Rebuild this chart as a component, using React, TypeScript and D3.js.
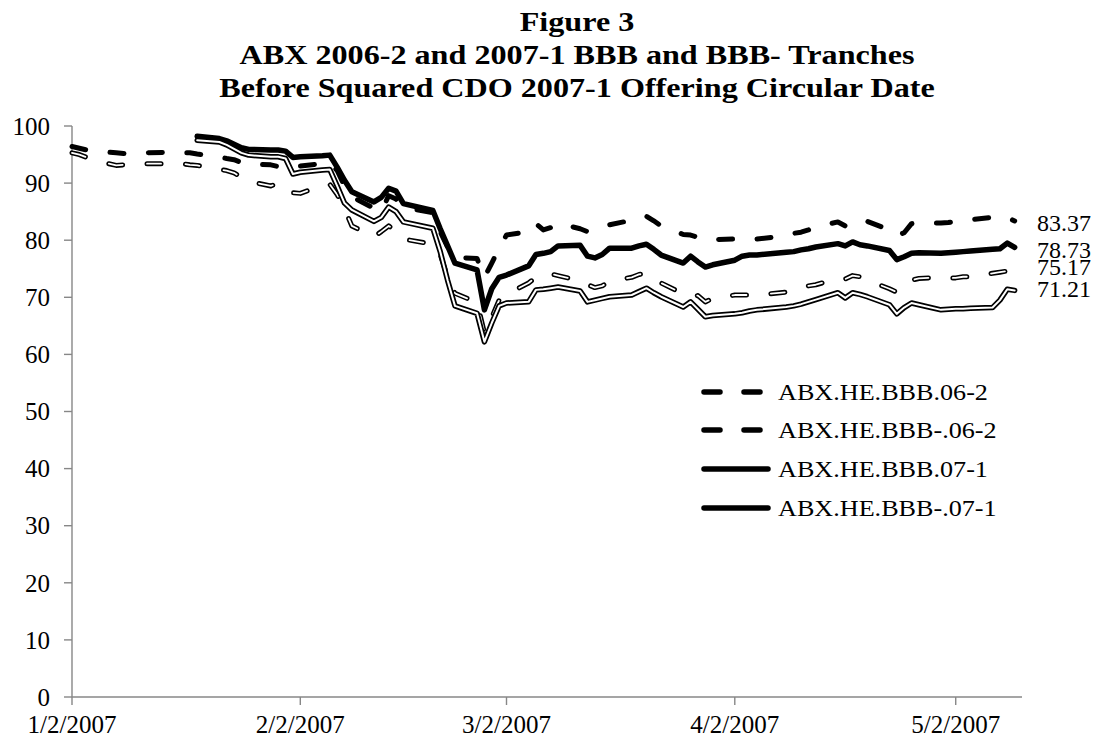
import React from "react";
import * as d3 from "d3";

const dates0662: string[] = [
  "1/2","1/3","1/4","1/5","1/8","1/9","1/10","1/11","1/12","1/16","1/17","1/18","1/19","1/22","1/23","1/24","1/25","1/26","1/29","1/30","1/31",
  "2/1","2/2","2/5","2/6","2/7","2/8","2/9","2/12","2/13","2/14","2/15","2/16","2/20","2/21","2/22","2/23","2/26","2/27","2/28",
  "3/1","3/2","3/5","3/6","3/7","3/8","3/9","3/12","3/13","3/14","3/15","3/16","3/19","3/20","3/21","3/22","3/23","3/26","3/27","3/28","3/29","3/30",
  "4/2","4/3","4/4","4/5","4/9","4/10","4/11","4/12","4/13","4/16","4/17","4/18","4/19","4/20","4/23","4/24","4/25","4/26","4/27","4/30",
  "5/1","5/2","5/3","5/4","5/7","5/8","5/9","5/10",
];
const dates0701: string[] = dates0662.slice(12);

const bbb062: number[] = [
  96.4,96.1,95.8,95.6,95.3,95.2,95.1,95.2,95.3,95.4,95.3,95.3,95.1,94.6,94.3,94.1,93.6,93.3,93.2,92.9,92.6,
  92.8,93.0,93.4,93.6,92.2,89.5,87.6,85.6,85.0,87.8,87.2,85.8,84.8,81.5,78.8,77.0,76.8,73.5,76.0,
  78.6,80.9,81.5,82.9,81.8,82.2,83.0,82.0,81.5,81.8,82.2,82.7,83.5,83.6,84.2,83.4,82.5,81.0,80.9,80.5,80.0,80.1,
  80.2,80.3,80.2,80.2,80.8,81.2,81.4,81.8,82.3,83.2,82.5,83.0,83.6,83.3,81.8,80.8,81.3,82.9,83.0,83.0,
  83.1,83.3,83.4,83.6,84.0,84.1,84.0,83.37,
];
const bbbm062: number[] = [
  95.3,95.0,94.5,94.0,93.1,93.2,93.4,93.4,93.4,93.4,93.4,93.2,93.1,92.4,92.2,91.8,91.0,90.3,89.5,90.0,88.8,
  88.3,88.2,89.6,89.8,88.0,85.5,82.5,80.6,81.5,82.5,81.6,80.2,79.3,77.5,73.5,70.7,69.1,63.8,66.5,
  69.5,70.5,72.5,73.5,74.0,74.1,73.8,72.9,72.2,71.7,72.0,72.8,73.5,74.0,74.2,73.3,72.5,70.6,70.1,70.3,69.2,69.8,
  70.4,70.4,70.4,70.4,70.9,71.4,71.8,72.0,72.2,73.3,73.2,73.8,73.6,73.0,71.5,70.9,72.0,73.0,73.3,73.5,
  73.4,73.4,73.6,73.6,74.2,74.4,74.6,75.17,
];
const bbb071: number[] = [
  98.2,97.8,97.4,96.8,96.2,95.9,95.8,95.8,95.6,
  94.5,94.6,94.8,94.9,92.8,90.5,88.5,86.7,87.5,89.1,88.6,86.4,85.2,82.0,79.0,76.0,74.8,67.8,71.5,
  73.5,73.9,75.5,77.5,77.7,78.0,79.0,79.1,77.2,76.9,77.5,78.6,78.6,79.0,79.3,78.4,77.4,76.0,77.2,76.2,75.3,75.7,
  76.5,77.2,77.4,77.4,77.9,78.0,78.3,78.5,78.8,79.4,79.0,79.7,79.2,79.0,78.2,76.6,77.1,77.7,77.8,77.7,
  77.8,77.9,78.0,78.1,78.4,78.5,79.5,78.73,
];
const bbbm071: number[] = [
  97.5,97.2,96.7,96.0,95.3,94.9,94.6,94.6,94.3,
  91.6,91.9,92.3,92.4,89.5,86.5,85.3,83.3,84.0,85.8,85.0,83.2,82.1,78.0,73.0,68.5,67.2,62.2,65.5,
  68.5,69.0,69.2,71.3,71.4,71.6,71.8,71.1,69.2,69.5,69.8,70.1,70.4,71.0,71.6,70.8,70.1,68.3,69.2,67.9,66.6,66.8,
  67.1,67.3,67.6,67.8,68.3,68.5,68.8,69.2,69.6,70.8,69.9,70.8,70.5,70.1,68.7,67.1,68.2,69.0,68.7,67.8,
  67.9,68.0,68.0,68.1,68.2,69.5,71.4,71.21,
];

const seriesNames: string[] = ["ABX.HE.BBB.06-2", "ABX.HE.BBB-.06-2", "ABX.HE.BBB.07-1", "ABX.HE.BBB-.07-1"];
const yTicks: number[] = [0, 10, 20, 30, 40, 50, 60, 70, 80, 90, 100];
const xTickLabels: string[] = ["1/2/2007", "2/2/2007", "3/2/2007", "4/2/2007", "5/2/2007"];
const titleLines: string[] = [
  "Figure 3",
  "ABX 2006-2 and 2007-1 BBB and BBB- Tranches",
  "Before Squared CDO 2007-1 Offering Circular Date",
];

const parse = (s: string) => {
  const [m, d] = s.split("/").map(Number);
  return new Date(2007, m - 1, d);
};

export default function App() {
  const W = 1099, H = 740;
  const x = d3.scaleTime().domain([new Date(2007, 0, 2), new Date(2007, 4, 11)]).range([72, 1022]);
  const y = d3.scaleLinear().domain([0, 100]).range([697, 126]);
  const axisColor = "#878787";
  const font = "'Liberation Serif', 'Times New Roman', serif";

  const mk = (ds: string[], vs: number[]) => ds.map((d, i) => ({ d: parse(d), v: vs[i] }));
  const line = d3.line<{ d: Date; v: number }>().x((p) => x(p.d)).y((p) => y(p.v));

  const s1 = line(mk(dates0662, bbb062)) || "";
  const s2 = line(mk(dates0662, bbbm062)) || "";
  const s3 = line(mk(dates0701, bbb071)) || "";
  const s4 = line(mk(dates0701, bbbm071)) || "";

  // end-of-series labels (top to bottom), small vertical nudges as in the reference
  const ends = [bbb062, bbb071, bbbm062, bbbm071].map((a) => a[a.length - 1]);
  const endNudge = [2, 2.5, -1, -2];

  const legendY = [392, 430, 469, 508];

  return (
    <svg width={W} height={H} style={{ position: "absolute", left: 0, top: 0, background: "#fff" }} fontFamily={font}>
      <rect x={0} y={0} width={W} height={H} fill="#fff" />
      {titleLines.map((t, i) => (
        <g key={t} transform={`translate(577, ${31 + i * 33}) scale(1.17, 1)`}>
          <text x={0} y={0} textAnchor="middle" fontWeight="bold" fontSize={27.5} fill="#000">
            {t}
          </text>
        </g>
      ))}
      {/* axes */}
      <line x1={72} x2={72} y1={y(100)} y2={y(0)} stroke={axisColor} strokeWidth={1.4} />
      <line x1={72} x2={1022} y1={y(0)} y2={y(0)} stroke={axisColor} strokeWidth={1.4} />
      {yTicks.map((t) => (
        <g key={t}>
          <line x1={64} x2={72} y1={y(t)} y2={y(t)} stroke={axisColor} strokeWidth={1.4} />
          <text x={50} y={y(t)} dy="0.35em" textAnchor="end" fontSize={25} fill="#000">{t}</text>
        </g>
      ))}
      {xTickLabels.map((t) => {
        const [m, d, yy] = t.split("/").map(Number);
        const xx = x(new Date(yy, m - 1, d));
        return (
          <g key={t}>
            <line x1={xx} x2={xx} y1={y(0)} y2={y(0) + 8} stroke={axisColor} strokeWidth={1.4} />
            <text x={xx} y={733} textAnchor="middle" fontSize={25} fill="#000">{t}</text>
          </g>
        );
      })}
      {/* series */}
      <path d={s1} fill="none" stroke="#000" strokeWidth={5} strokeDasharray="14 24.5" strokeLinecap="round" strokeLinejoin="round" />
      <path d={s2} fill="none" stroke="#000" strokeWidth={5} strokeDasharray="14 24.5" strokeLinecap="round" strokeLinejoin="round" />
      <path d={s2} fill="none" stroke="#fff" strokeWidth={1.8} strokeDasharray="14 24.5" strokeLinecap="round" strokeLinejoin="round" />
      <path d={s3} fill="none" stroke="#000" strokeWidth={5.5} strokeLinecap="round" strokeLinejoin="round" />
      <path d={s4} fill="none" stroke="#000" strokeWidth={5.5} strokeLinecap="round" strokeLinejoin="round" />
      <path d={s4} fill="none" stroke="#fff" strokeWidth={2} strokeLinecap="round" strokeLinejoin="round" />
      {/* end labels */}
      {ends.map((v, i) => (
        <text key={v} x={1037} y={y(v) + endNudge[i]} dy="0.35em" fontSize={24} fill="#000">{v.toFixed(2)}</text>
      ))}
      {/* legend */}
      {seriesNames.map((n, i) => (
        <g key={n}>
          <line x1={704} x2={768} y1={legendY[i]} y2={legendY[i]} stroke="#000" strokeWidth={5.5}
            strokeLinecap="round" strokeDasharray={i < 2 ? "16 24" : undefined} />
          <g transform={`translate(778, ${legendY[i]}) scale(1.09, 1)`}>
            <text x={0} y={0} dy="0.35em" fontSize={24} fill="#000">{n}</text>
          </g>
        </g>
      ))}
    </svg>
  );
}
